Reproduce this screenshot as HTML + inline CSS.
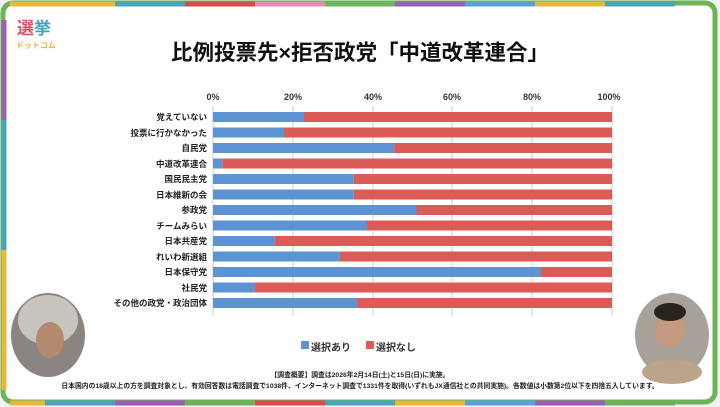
<!DOCTYPE html>
<html><head><meta charset="utf-8"><style>
body{margin:0;width:720px;height:407px;background:#f2f2f2;position:relative;overflow:hidden;font-family:"Liberation Sans","Noto Sans CJK JP",sans-serif;}
.abs{position:absolute}
.lbl{position:absolute;right:513px;font-size:8.5px;font-weight:bold;color:#222;white-space:nowrap;line-height:10px}
.tick{position:absolute;top:92px;font-size:9px;font-weight:bold;color:#333;transform:translateX(-50%)}
</style></head><body>
<svg class="abs" style="left:0;top:0" width="720" height="407">
<rect x="3" y="3" width="712" height="399" rx="10" fill="#fff" stroke="#6cb35a" stroke-width="5"/>
<g stroke-width="5">
<line x1="10" y1="4" x2="45" y2="4" stroke="#e8b83a"/><line x1="45" y1="4" x2="115" y2="4" stroke="#e8b83a"/>
<line x1="115" y1="4" x2="185" y2="4" stroke="#4ba3b8"/><line x1="185" y1="4" x2="255" y2="4" stroke="#d94b4b"/>
<line x1="255" y1="4" x2="325" y2="4" stroke="#e58bb5"/><line x1="325" y1="4" x2="395" y2="4" stroke="#6cb35a"/>
<line x1="395" y1="4" x2="465" y2="4" stroke="#9a5fb0"/><line x1="465" y1="4" x2="535" y2="4" stroke="#5aa0d8"/>
<line x1="535" y1="4" x2="605" y2="4" stroke="#e8b83a"/><line x1="605" y1="4" x2="675" y2="4" stroke="#4ba3b8"/>
<line x1="10" y1="403" x2="45" y2="403" stroke="#e8b83a"/><line x1="45" y1="403" x2="115" y2="403" stroke="#4ba3b8"/>
<line x1="115" y1="403" x2="185" y2="403" stroke="#9a5fb0"/><line x1="185" y1="403" x2="255" y2="403" stroke="#6cb35a"/>
<line x1="255" y1="403" x2="325" y2="403" stroke="#d94b4b"/><line x1="325" y1="403" x2="395" y2="403" stroke="#4ba3b8"/>
<line x1="395" y1="403" x2="465" y2="403" stroke="#e8b83a"/><line x1="465" y1="403" x2="535" y2="403" stroke="#5aa0d8"/>
<line x1="535" y1="403" x2="605" y2="403" stroke="#9a5fb0"/><line x1="605" y1="403" x2="675" y2="403" stroke="#6cb35a"/>
<line x1="4" y1="20" x2="4" y2="120" stroke="#9a5fb0"/><line x1="4" y1="120" x2="4" y2="250" stroke="#4ba3b8"/>
<line x1="4" y1="250" x2="4" y2="390" stroke="#e8b83a"/>
</g>
<g stroke="#ccc" stroke-width="1">
<line x1="213" y1="106" x2="213" y2="316"/><line x1="293" y1="106" x2="293" y2="316"/><line x1="373" y1="106" x2="373" y2="316"/>
<line x1="452" y1="106" x2="452" y2="316"/><line x1="532" y1="106" x2="532" y2="316"/><line x1="612" y1="106" x2="612" y2="316"/>
</g>
<g id="bars"></g>
<ellipse cx="48" cy="335" rx="37" ry="42" fill="#8a8580"/>
<ellipse cx="48" cy="320" rx="30" ry="25" fill="#c9c4be"/>
<ellipse cx="50" cy="340" rx="14" ry="18" fill="#b38a70"/>
<ellipse cx="672" cy="335" rx="37" ry="42" fill="#a8a29a"/>
<ellipse cx="670" cy="330" rx="15" ry="18" fill="#c59a80"/>
<ellipse cx="670" cy="312" rx="16" ry="9" fill="#2a2420"/>
<ellipse cx="672" cy="372" rx="30" ry="12" fill="#bba58a"/>
<rect x="301" y="341" width="8" height="8" fill="#5b93d3"/><rect x="366" y="341" width="8" height="8" fill="#dc5b56"/>
</svg>
<div class="abs" style="left:17px;top:20px;font-size:17px;font-weight:bold;color:#e0506a;line-height:18px">選<span style="color:#4ba3b8">挙</span></div>
<div class="abs" style="left:16px;top:40px;font-size:8px;font-weight:bold;color:#e8b83a">ドットコム</div>
<div class="abs" style="left:0;width:720px;top:36px;text-align:center;font-size:21.5px;font-weight:bold;color:#111">比例投票先×拒否政党「中道改革連合」</div>
<div class="tick" style="left:213px">0%</div><div class="tick" style="left:293px">20%</div><div class="tick" style="left:373px">40%</div><div class="tick" style="left:452px">60%</div><div class="tick" style="left:532px">80%</div><div class="tick" style="left:609px">100%</div>
<div id="labels"></div>
<div class="abs" style="left:311px;top:339px;font-size:10px;font-weight:bold;color:#333">選択あり</div>
<div class="abs" style="left:376px;top:339px;font-size:10px;font-weight:bold;color:#333">選択なし</div>
<div class="abs" style="left:0;width:720px;top:369px;text-align:center;font-size:6.8px;font-weight:bold;color:#222">【調査概要】調査は2026年2月14日(土)と15日(日)に実施。</div>
<div class="abs" style="left:0;width:720px;top:380px;text-align:center;font-size:6.8px;font-weight:bold;color:#222;white-space:nowrap">日本国内の18歳以上の方を調査対象とし、有効回答数は電話調査で1038件、インターネット調査で1331件を取得(いずれもJX通信社との共同実施)。各数値は小数第2位以下を四捨五入しています。</div>
<script>
var d=[["覚えていない",22.8],["投票に行かなかった",17.8],["自民党",45.4],["中道改革連合",2.3],["国民民主党",35.3],["日本維新の会",35.3],["参政党",51],["チームみらい",38.6],["日本共産党",15.5],["れいわ新選組",31.8],["日本保守党",82.2],["社民党",10.5],["その他の政党・政治団体",36.1]];
var g=document.getElementById('bars'),L=document.getElementById('labels'),s='',h='';
d.forEach(function(r,i){var y=112+i*15.5,w=r[1]*3.99;
s+='<rect x="213" y="'+y+'" width="'+w+'" height="10" fill="#5b93d3"/><rect x="'+(213+w)+'" y="'+y+'" width="'+(399-w)+'" height="10" fill="#dc5b56"/>';
h+='<div class="lbl" style="top:'+y+'px">'+r[0]+'</div>';});
g.innerHTML=s;L.innerHTML=h;
</script>
</body></html>
